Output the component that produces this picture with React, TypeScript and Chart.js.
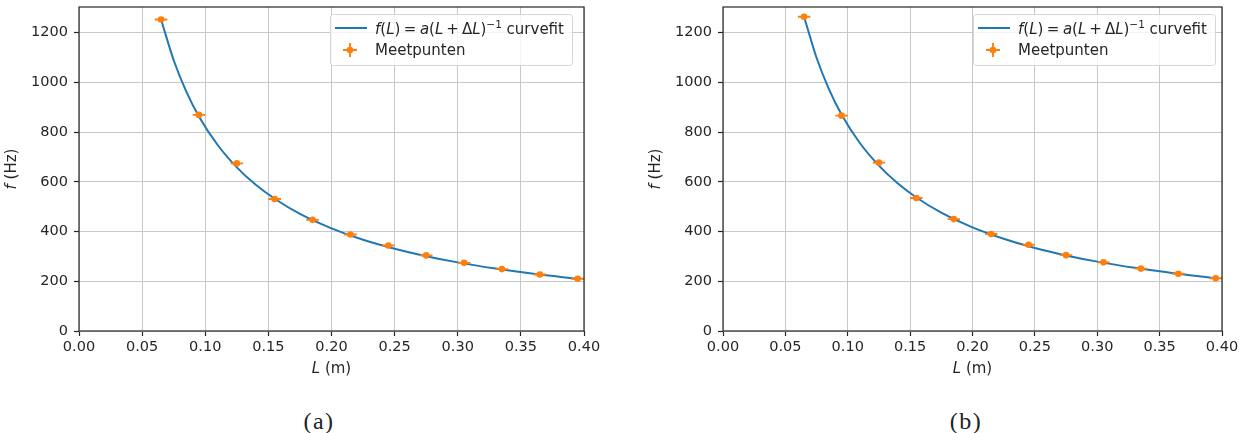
import React, { useEffect, useRef } from "react";
import Chart from "chart.js/auto";

// ---- data ----
const lengths = [0.065, 0.095, 0.125, 0.155, 0.185, 0.215, 0.245, 0.275, 0.305, 0.335, 0.365, 0.395];
const lengthErr = [0.005, 0.005, 0.005, 0.005, 0.005, 0.005, 0.005, 0.005, 0.005, 0.005, 0.005, 0.005];

const freqA = [1253, 869, 674, 531, 447, 388, 344, 304, 274, 249, 227, 210];
const freqErrA = [8, 8, 8, 8, 8, 8, 8, 8, 8, 8, 8, 8];
const freqB = [1264, 866, 677, 535, 450, 390, 347, 305, 276, 251, 230, 212];
const freqErrB = [8, 8, 8, 8, 8, 8, 8, 8, 8, 8, 8, 8];

const fitLengths = [0.065, 0.075, 0.085, 0.095, 0.11, 0.125, 0.14, 0.155, 0.175, 0.2, 0.225, 0.25, 0.275, 0.3, 0.33, 0.36, 0.395];
const fitA = [1253, 1089, 963, 863, 747, 658, 588, 532, 471, 413, 367, 331, 301, 276, 251, 230, 210];
const fitB = [1264, 1099, 972, 871, 754, 665, 594, 537, 476, 417, 371, 334, 304, 279, 254, 233, 212];

const xTicks = [0, 0.05, 0.1, 0.15, 0.2, 0.25, 0.3, 0.35, 0.4];
const yTicks = [0, 200, 400, 600, 800, 1000, 1200];
const xRange = [0, 0.4];
const yRange = [0, 1303];

const captions = ["(a)", "(b)"];

const BLUE = "#1f77b4";
const ORANGE = "#ff7f0e";
const INK = "#262626";
const FONT = '"DejaVu Sans", sans-serif';
const LABEL_SIZE = 15;

type PanelProps = {
  left: number;
  width: number;
  height: number;
  axisWidth: number;
  rightPad: number;
  legendX: number;
  freq: number[];
  freqErr: number[];
  fit: number[];
};

function segFont(s: any) {
  return `${s.it ? "italic " : ""}${s.size || LABEL_SIZE}px ${FONT}`;
}

function segWidth(ctx: CanvasRenderingContext2D, segs: any[]) {
  let w = 0;
  for (const s of segs) {
    if (s.gap) {
      w += s.gap;
      continue;
    }
    ctx.font = segFont(s);
    w += ctx.measureText(s.t).width;
  }
  return w;
}

function drawSegments(ctx: CanvasRenderingContext2D, x: number, y: number, segs: any[]) {
  let cx = x;
  for (const s of segs) {
    if (s.gap) {
      cx += s.gap;
      continue;
    }
    ctx.font = segFont(s);
    ctx.fillText(s.t, cx, y - (s.rise || 0));
    cx += ctx.measureText(s.t).width;
  }
  return cx;
}

function Panel(p: PanelProps) {
  const ref = useRef<HTMLCanvasElement>(null);
  useEffect(() => {
    const canvas = ref.current!;
    const decor = {
      id: "decor",
      afterDatasetsDraw(chart: any) {
        const { ctx, scales } = chart;
        const xs = scales.x;
        const ys = scales.y;
        ctx.save();
        ctx.strokeStyle = ORANGE;
        ctx.lineWidth = 1.9;
        lengths.forEach((L, i) => {
          const x = xs.getPixelForValue(L);
          const y = ys.getPixelForValue(p.freq[i]);
          ctx.beginPath();
          ctx.moveTo(xs.getPixelForValue(L - lengthErr[i]), y);
          ctx.lineTo(xs.getPixelForValue(L + lengthErr[i]), y);
          ctx.moveTo(x, ys.getPixelForValue(p.freq[i] - p.freqErr[i]));
          ctx.lineTo(x, ys.getPixelForValue(p.freq[i] + p.freqErr[i]));
          ctx.stroke();
        });
        ctx.restore();
      },
      afterDraw(chart: any) {
        const { ctx, chartArea: a } = chart;
        ctx.save();
        // frame
        ctx.strokeStyle = INK;
        ctx.lineWidth = 1.2;
        ctx.strokeRect(a.left, a.top, a.right - a.left, a.bottom - a.top);
        ctx.fillStyle = INK;
        ctx.textBaseline = "alphabetic";
        // x title
        const xSegs = [{ t: "L", it: true }, { t: " (m)" }];
        const w = segWidth(ctx, xSegs);
        drawSegments(ctx, (a.left + a.right) / 2 - w / 2, 373, xSegs);
        // y title
        const ySegs = [{ t: "f", it: true }, { t: " (Hz)" }];
        const wy = segWidth(ctx, ySegs);
        ctx.save();
        ctx.translate(a.left - 63, (a.top + a.bottom) / 2);
        ctx.rotate(-Math.PI / 2);
        drawSegments(ctx, -wy / 2, 0, ySegs);
        ctx.restore();
        // legend
        const bx = p.legendX;
        const by = 14;
        const bw = 242;
        const bh = 51;
        ctx.beginPath();
        (ctx as any).roundRect(bx + 0.5, by + 0.5, bw, bh, 3);
        ctx.fillStyle = "rgba(255,255,255,0.8)";
        ctx.fill();
        ctx.strokeStyle = "#d6d6d6";
        ctx.lineWidth = 1;
        ctx.stroke();
        ctx.strokeStyle = BLUE;
        ctx.lineWidth = 2;
        ctx.beginPath();
        ctx.moveTo(bx + 5, by + 14);
        ctx.lineTo(bx + 37, by + 14);
        ctx.stroke();
        const cx = bx + 20;
        const cy = by + 36;
        ctx.strokeStyle = ORANGE;
        ctx.lineWidth = 1.9;
        ctx.beginPath();
        ctx.moveTo(cx - 7, cy);
        ctx.lineTo(cx + 7, cy);
        ctx.moveTo(cx, cy - 7);
        ctx.lineTo(cx, cy + 7);
        ctx.stroke();
        ctx.fillStyle = ORANGE;
        ctx.beginPath();
        ctx.arc(cx, cy, 3.3, 0, Math.PI * 2);
        ctx.fill();
        ctx.fillStyle = INK;
        drawSegments(ctx, bx + 45, by + 20, [
          { t: "f", it: true },
          { t: "(" },
          { t: "L", it: true },
          { t: ")" },
          { gap: 3.5 },
          { t: "=" },
          { gap: 3.5 },
          { t: "a", it: true },
          { t: "(" },
          { t: "L", it: true },
          { gap: 3 },
          { t: "+" },
          { gap: 3 },
          { t: "Δ" },
          { t: "L", it: true },
          { t: ")" },
          { t: "−1", size: 10.5, rise: 6.5 },
          { t: " curvefit" },
        ]);
        ctx.font = `${LABEL_SIZE}px ${FONT}`;
        ctx.fillText("Meetpunten", bx + 45, by + 41);
        ctx.restore();
      },
    };

    const points = lengths.map((L, i) => ({ x: L, y: p.freq[i] }));
    const curve = fitLengths.map((L, i) => ({ x: L, y: p.fit[i] }));

    const chart = new Chart(canvas, {
      type: "scatter",
      data: {
        datasets: [
          {
            data: points,
            pointRadius: 3.3,
            pointHoverRadius: 3.3,
            backgroundColor: ORANGE,
            borderWidth: 0,
            showLine: false,
          },
          {
            data: curve,
            showLine: true,
            pointRadius: 0,
            borderColor: BLUE,
            borderWidth: 2,
            cubicInterpolationMode: "monotone",
          },
        ],
      } as any,
      options: {
        animation: false,
        responsive: false,
        devicePixelRatio: 1,
        events: [],
        layout: { padding: { left: 0, top: 7, right: p.rightPad, bottom: 0 } },
        plugins: { legend: { display: false }, tooltip: { enabled: false } },
        scales: {
          x: {
            type: "linear",
            min: xRange[0],
            max: xRange[1],
            afterBuildTicks: (s: any) => {
              s.ticks = xTicks.map((v) => ({ value: v }));
            },
            afterFit: (s: any) => {
              s.height = p.height - 331;
              s.paddingLeft = 0;
              s.paddingRight = 0;
            },
            border: { display: false },
            grid: { color: "#c8c8c8", lineWidth: 1, tickLength: 5, tickColor: INK, tickWidth: 1.2 },
            ticks: {
              color: INK,
              font: { family: FONT, size: 14.5 },
              padding: 3,
              maxRotation: 0,
              autoSkip: false,
              callback: (v: any) => Number(v).toFixed(2),
            },
          },
          y: {
            type: "linear",
            min: yRange[0],
            max: yRange[1],
            afterBuildTicks: (s: any) => {
              s.ticks = yTicks.map((v) => ({ value: v }));
            },
            afterFit: (s: any) => {
              s.width = p.axisWidth;
              s.paddingTop = 0;
              s.paddingBottom = 0;
            },
            border: { display: false },
            grid: { color: "#c8c8c8", lineWidth: 1, tickLength: 5, tickColor: INK, tickWidth: 1.2 },
            ticks: {
              color: INK,
              font: { family: FONT, size: 14.5 },
              padding: 6,
              autoSkip: false,
              callback: (v: any) => String(v),
            },
          },
        },
      } as any,
      plugins: [decor],
    });
    return () => chart.destroy();
  }, []);
  return (
    <canvas
      ref={ref}
      width={p.width}
      height={p.height}
      style={{ position: "absolute", left: p.left, top: 0, width: p.width, height: p.height }}
    />
  );
}

export default function App() {
  const capStyle: React.CSSProperties = {
    position: "absolute",
    top: 408,
    width: 80,
    height: 26,
    lineHeight: "26px",
    textAlign: "center",
    fontFamily: '"Liberation Serif", serif',
    fontSize: 24,
    letterSpacing: 1.5,
    color: "#222",
  };
  return (
    <div style={{ position: "fixed", left: 0, top: 0, width: 1245, height: 433, background: "#fff", overflow: "hidden" }}>
      <Panel left={0} width={620} height={390} axisWidth={79} rightPad={36} legendX={330} freq={freqA} freqErr={freqErrA} fit={fitA} />
      <Panel left={640} width={605} height={390} axisWidth={83} rightPad={23} legendX={333} freq={freqB} freqErr={freqErrB} fit={fitB} />
      <div style={{ ...capStyle, left: 319 - 40 }}>{captions[0]}</div>
      <div style={{ ...capStyle, left: 966 - 40 }}>{captions[1]}</div>
    </div>
  );
}
